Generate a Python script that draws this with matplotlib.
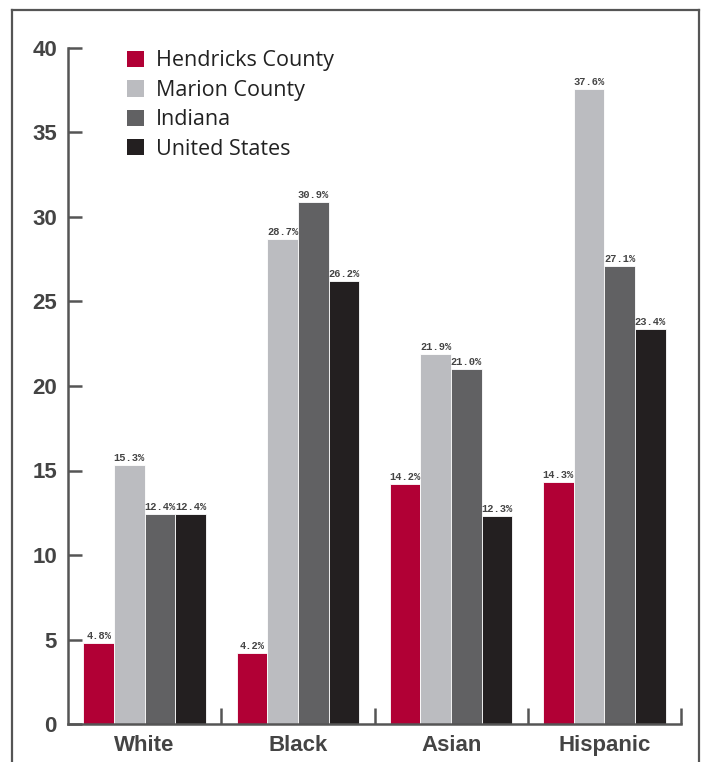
import numpy as np
import matplotlib.pyplot as plt
from matplotlib.patches import Patch
from matplotlib.lines import Line2D

# data
groups = ['White', 'Black', 'Asian', 'Hispanic']
series = ['Hendricks County', 'Marion County', 'Indiana', 'United States']
hendricks = [4.8, 4.2, 14.2, 14.3]
marion = [15.3, 28.7, 21.9, 37.6]
indiana = [12.4, 30.9, 21.0, 27.1]
united_states = [12.4, 26.2, 12.3, 23.4]
yticks = [0, 5, 10, 15, 20, 25, 30, 35, 40]

colors = ['#B10035', '#BBBCC0', '#616163', '#231F20']
axis_col = '#555555'
text_col = '#444444'

fig = plt.figure(figsize=(7.04, 7.62), dpi=100)
ax = fig.add_axes([68/704, 1-724/762, 613/704, 676/762])

x = np.arange(len(groups))
w = 0.2
all_vals = [hendricks, marion, indiana, united_states]
for i, vals in enumerate(all_vals):
    pos = x + (i - 1.5) * w
    ax.bar(pos, vals, width=w, color=colors[i], edgecolor='white', linewidth=0.6)
    for px, v in zip(pos, vals):
        ax.text(px, v + 0.12, f'{v:.1f}%', ha='center', va='bottom',
                fontsize=7.5, fontweight='bold', family='Liberation Mono', color=text_col)

ax.set_xlim(-0.5, 3.5)
ax.set_ylim(0, 40)

for s in ['top', 'right']:
    ax.spines[s].set_visible(False)
for s in ['left', 'bottom']:
    ax.spines[s].set_color(axis_col)
    ax.spines[s].set_linewidth(1.8)

ax.set_yticks(yticks)
ax.set_yticklabels([str(t) for t in yticks], fontsize=16, fontweight='bold',
                   family='Liberation Sans', color=text_col)
ax.tick_params(axis='y', direction='in', length=10, width=1.8, color=axis_col, pad=8)

ax.set_xticks(x)
ax.set_xticklabels(groups, fontsize=16, fontweight='bold',
                   family='Liberation Sans', color=text_col)
ax.tick_params(axis='x', which='major', length=0, pad=8)
ax.set_xticks(x + 0.5, minor=True)
ax.tick_params(axis='x', which='minor', direction='in', length=11.5, width=1.8, color=axis_col)

handles = [Patch(facecolor=c, edgecolor='none') for c in colors]
leg = ax.legend(handles, series, loc='upper left', bbox_to_anchor=(0.065, 1.025),
                frameon=False, handlelength=0.8, handleheight=0.8, handletextpad=0.55,
                labelspacing=0.39, prop={'family': 'Open Sans', 'size': 15.5})
for t in leg.get_texts():
    t.set_color('#222222')

# outer frame
fc = axis_col
fig.add_artist(Line2D([12/704, 12/704], [0, 1-10/762], color=fc, lw=1.6, transform=fig.transFigure))
fig.add_artist(Line2D([699/704, 699/704], [0, 1-10/762], color=fc, lw=1.6, transform=fig.transFigure))
fig.add_artist(Line2D([12/704, 699/704], [1-10/762, 1-10/762], color=fc, lw=1.6, transform=fig.transFigure))

fig.savefig('out.png', dpi=100)
